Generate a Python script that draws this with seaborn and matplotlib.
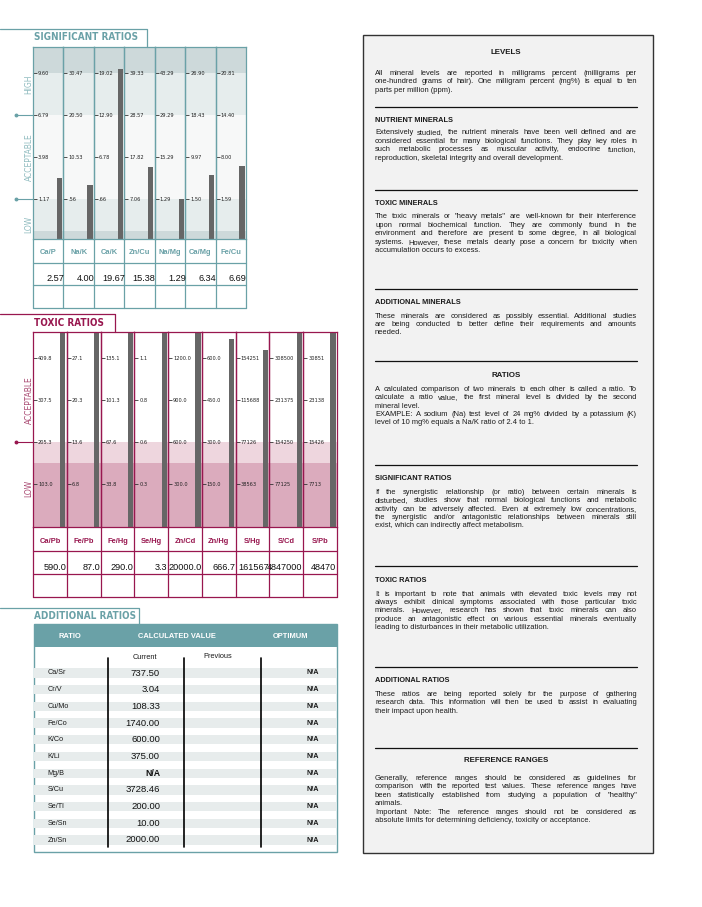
import matplotlib
matplotlib.use("Agg")
import matplotlib.pyplot as plt
import seaborn as sns
import numpy as np
import pandas as pd
from matplotlib import font_manager
from matplotlib.font_manager import FontProperties
from matplotlib.patches import Rectangle

sns.set_theme(style="white")
installed = {f.name for f in font_manager.fontManager.ttflist}
SANS = "Liberation Sans" if "Liberation Sans" in installed else "DejaVu Sans"
plt.rcParams['font.family'] = [SANS, 'DejaVu Sans']

# look for a condensed / narrow face for the panel titles
cond_bold, cond_reg = None, None
for f in font_manager.fontManager.ttflist:
    narrow = ("Narrow" in f.name or "Condensed" in f.name or
              str(f.stretch) in ("condensed", "semi-condensed", "extra-condensed"))
    if not narrow or "Mono" in f.name or str(f.style) != "normal":
        continue
    w = f.weight if isinstance(f.weight, int) else (700 if "bold" in str(f.weight) else 400)
    if w >= 600 and cond_bold is None:
        cond_bold = f.fname
    if w < 600 and cond_reg is None:
        cond_reg = f.fname


def title_font(size):
    if cond_bold:
        return FontProperties(fname=cond_bold, size=size)
    return FontProperties(family=SANS, weight="bold", size=size * 0.95)


def narrow_font(size):
    if cond_reg:
        return FontProperties(fname=cond_reg, size=size)
    return FontProperties(family=SANS, size=size)


# ---------------- data ----------------
sig_ratios = ["Ca/P", "Na/K", "Ca/K", "Zn/Cu", "Na/Mg", "Ca/Mg", "Fe/Cu"]
sig_values = [2.57, 4.00, 19.67, 15.38, 1.29, 6.34, 6.69]
sig_tick_labels = [
    ["9.60", "6.79", "3.98", "1.17"],
    ["30.47", "20.50", "10.53", ".56"],
    ["19.02", "12.90", "6.78", ".66"],
    ["39.33", "28.57", "17.82", "7.06"],
    ["43.29", "29.29", "15.29", "1.29"],
    ["26.90", "18.43", "9.97", "1.50"],
    ["20.81", "14.40", "8.00", "1.59"],
]
sig_zones = ["HIGH", "ACCEPTABLE", "LOW"]

tox_ratios = ["Ca/Pb", "Fe/Pb", "Fe/Hg", "Se/Hg", "Zn/Cd", "Zn/Hg", "S/Hg", "S/Cd", "S/Pb"]
tox_value_labels = ["590.0", "87.0", "290.0", "3.3", "20000.0", "666.7", "161567", "4847000", "48470"]
tox_values = [float(v) for v in tox_value_labels]
tox_tick_labels = [
    ["409.8", "307.5", "205.3", "103.0"],
    ["27.1", "20.3", "13.6", "6.8"],
    ["135.1", "101.3", "67.6", "33.8"],
    ["1.1", "0.8", "0.6", "0.3"],
    ["1200.0", "900.0", "600.0", "300.0"],
    ["600.0", "450.0", "300.0", "150.0"],
    ["154251", "115688", "77126", "38563"],
    ["308500", "231375", "154250", "77125"],
    ["30851", "23138", "15426", "7713"],
]
tox_zones = ["ACCEPTABLE", "LOW"]

add_ratios = ["Ca/Sr", "Cr/V", "Cu/Mo", "Fe/Co", "K/Co", "K/Li", "Mg/B", "S/Cu", "Se/Tl", "Se/Sn", "Zn/Sn"]
add_current = ["737.50", "3.04", "108.33", "1740.00", "600.00", "375.00", "N/A", "3728.46", "200.00", "10.00", "2000.00"]
add_previous = [""] * 11
add_optimum = ["N/A"] * 11
add_headers = ["RATIO", "CALCULATED VALUE", "OPTIMUM"]
add_subheaders = ["Current", "Previous"]

# ---------------- styling ----------------
W, H = 702, 907
TEAL = "#6aa1a7"
TEAL_LT = "#8dbabe"
MAROON = "#98174f"
MAROON_LT = "#a8466f"
BAR = "#666666"
TXT = "#1a1a1a"

fig = plt.figure(figsize=(W / 100, H / 100), dpi=100)


def rect(x0, y0, x1, y1):
    return [x0 / W, 1 - y1 / H, (x1 - x0) / W, (y1 - y0) / H]


bg = fig.add_axes([0, 0, 1, 1], zorder=0)
bg.set_xlim(0, W); bg.set_ylim(H, 0); bg.axis("off")
ov = fig.add_axes([0, 0, 1, 1], zorder=5)
ov.set_xlim(0, W); ov.set_ylim(H, 0); ov.axis("off")


def ratio_column(x0, x1, ytop, ybot, tick_px, labels, value, name, edge):
    ax = fig.add_axes(rect(x0, ytop, x1, ybot), zorder=2)
    hi, lo = float(labels[0]), float(labels[-1])
    ticks = list(np.linspace(hi, lo, len(labels)))   # ticks are evenly spaced on the scale
    step = (hi - lo) / (len(labels) - 1)
    pps = tick_px[1] - tick_px[0]
    base = lo - (ybot - tick_px[-1]) / pps * step
    top = hi + (tick_px[0] - ytop) / pps * step
    df = pd.DataFrame({"ratio": [name], "height": [value - base]})
    sns.barplot(data=df, x="ratio", y="height", ax=ax, color=BAR, saturation=1,
                width=0.8, errorbar=None, linewidth=0)
    ax.set_ylim(0, top - base)
    ax.set_yticks([t - base for t in ticks])
    ax.set_yticklabels(labels, ha="left", fontproperties=narrow_font(4.1))
    ax.tick_params(axis="y", left=True, direction="in", length=3.0, width=0.6,
                   color="#333333", pad=-3.6, labelcolor="#222222")
    wpx = x1 - x0
    unit = 5.3 / 0.8
    cpx = wpx - 1.3 - 2.65
    ax.set_xlim(-cpx / unit, (wpx - cpx) / unit)
    ax.set_xticks([])
    ax.set_xlabel(""); ax.set_ylabel("")
    ax.patch.set_alpha(0)
    for s in ax.spines.values():
        s.set_visible(True); s.set_color(edge); s.set_linewidth(0.9)
    return ax


# ================= SIGNIFICANT RATIOS =================
SX0, SX1, STOP, SBOT = 33, 246, 47, 239
sig_edges = [SX0 + (SX1 - SX0) * i / 7 for i in range(8)]
sig_tick_px = [73, 115, 157, 199]
for y0, y1, c in [(47, 73, "#cdd9da"), (73, 115, "#e6eded"), (115, 199, "#f7f8f8"),
                  (199, 231, "#e6eded"), (231, 239, "#cdd9da")]:
    bg.add_patch(Rectangle((SX0, y0), SX1 - SX0, y1 - y0, color=c, lw=0))
for i, name in enumerate(sig_ratios):
    ratio_column(sig_edges[i], sig_edges[i + 1], STOP, SBOT, sig_tick_px,
                 sig_tick_labels[i], sig_values[i], name, TEAL)
    cx = (sig_edges[i] + sig_edges[i + 1]) / 2
    ov.text(cx, 253, name, ha="center", va="center", fontsize=5.4, fontweight="bold", color=TEAL)
    ov.text(sig_edges[i + 1] + 0.5, 278.5, f"{sig_values[i]:.2f}", ha="right", va="center",
            fontsize=6.6, color="#111111")
for y in [263, 285, 308]:
    ov.plot([SX0, SX1], [y, y], color=TEAL, lw=0.9)
for x in sig_edges:
    ov.plot([x, x], [SBOT, 308], color=TEAL, lw=0.9)
ov.plot([0, 147, 147], [29, 29, 47], color=TEAL, lw=0.9)
ov.text(34.5, 37.5, "SIGNIFICANT RATIOS", ha="left", va="center",
        fontproperties=title_font(7.1), color=TEAL)
for lab, y in zip(sig_zones, [84, 157.5, 224]):
    ov.text(29, y, lab, rotation=90, ha="center", va="center",
            fontproperties=narrow_font(6.0), color=TEAL_LT)
for y in [115, 199]:
    ov.plot([15, SX0], [y, y], color=TEAL, lw=0.8)
    ov.plot([15.5], [y], marker="o", ms=1.8, color=TEAL)

# ================= TOXIC RATIOS =================
TX0, TX1, TTOP, TBOT = 33, 337, 332, 527
tox_edges = [TX0 + (TX1 - TX0) * i / 9 for i in range(10)]
tox_tick_px = [358, 400, 442, 484]
for y0, y1, c in [(332, 442, "#ffffff"), (442, 463, "#eed6de"), (463, 527, "#dbabbd")]:
    bg.add_patch(Rectangle((TX0, y0), TX1 - TX0, y1 - y0, color=c, lw=0))
for i, name in enumerate(tox_ratios):
    ratio_column(tox_edges[i], tox_edges[i + 1], TTOP, TBOT, tox_tick_px,
                 tox_tick_labels[i], tox_values[i], name, MAROON)
    cx = (tox_edges[i] + tox_edges[i + 1]) / 2
    ov.text(cx, 541.5, name, ha="center", va="center", fontsize=5.4, fontweight="bold", color=MAROON)
    ov.text(tox_edges[i + 1] - 0.5, 567.5, tox_value_labels[i], ha="right", va="center",
            fontsize=6.6, color="#111111")
for y in [551, 574, 597]:
    ov.plot([TX0, TX1], [y, y], color=MAROON, lw=0.9)
for x in tox_edges:
    ov.plot([x, x], [TBOT, 597], color=MAROON, lw=0.9)
ov.plot([0, 115, 115], [314, 314, 332], color=MAROON, lw=0.9)
ov.text(34.5, 322.5, "TOXIC RATIOS", ha="left", va="center",
        fontproperties=title_font(7.1), color=MAROON)
for lab, y in zip(tox_zones, [400, 488]):
    ov.text(29, y, lab, rotation=90, ha="center", va="center",
            fontproperties=narrow_font(6.0), color=MAROON_LT)
ov.plot([15, TX0], [442, 442], color=MAROON, lw=0.8)
ov.plot([15.5], [442], marker="o", ms=1.8, color=MAROON)

# ================= ADDITIONAL RATIOS =================
AX0, AX1, ATOP, ABOT = 33.5, 336.5, 624, 852
ov.plot([0, 139, 139], [608, 608, ATOP], color=TEAL, lw=0.9)
ov.text(34.5, 616, "ADDITIONAL RATIOS", ha="left", va="center",
        fontproperties=title_font(7.1), color=TEAL)
bg.add_patch(Rectangle((AX0, ATOP), AX1 - AX0, 647 - ATOP, color=TEAL, lw=0))
bg.add_patch(Rectangle((AX0, ATOP), AX1 - AX0, ABOT - ATOP, fill=False, ec=TEAL, lw=1.0))
for txt, x in zip(add_headers, [70, 176.7, 290.7]):
    ov.text(x, 636, txt, ha="center", va="center", fontsize=5.4, fontweight="bold", color="white")
ov.text(145, 657.3, add_subheaders[0], ha="center", va="center", fontsize=5.3, color=TXT)
ov.text(217.3, 656, add_subheaders[1], ha="center", va="center", fontsize=5.3, color=TXT)
for i, name in enumerate(add_ratios):
    y = 673 + 16.7 * i
    bg.add_patch(Rectangle((AX0 + 0.5, y - 4.7), AX1 - AX0 - 1, 9.4, color="#e7ecec", lw=0))
    ov.text(47.3, y, name, ha="left", va="center", fontsize=5.2, color=TXT)
    cur = add_current[i]
    ov.text(160, y, cur, ha="right", va="center", fontsize=6.3 if cur == "N/A" else 6.8,
            fontweight="bold" if cur == "N/A" else "normal", color="#111111")
    ov.text(230, y, add_previous[i], ha="right", va="center", fontsize=6.8)
    ov.text(319.3, y, add_optimum[i], ha="right", va="center", fontsize=5.2,
            fontweight="bold", color=TXT)
for x in [108.3, 184.3, 260.7]:
    ov.plot([x, x], [658, 847], color="black", lw=1.2)

# ================= RIGHT INFO PANEL =================
bg.add_patch(Rectangle((362.7, 35), 653.3 - 362.7, 853.3 - 35, fc="#f2f2f2", ec="#333333", lw=1.0))
PX0, PX1 = 375, 637
renderer = fig.canvas.get_renderer()
BODY = 5.45
HEAD = 5.3


def paragraph(lines, y0, dy=8.4):
    for i, line in enumerate(lines):
        last = line.endswith("|")
        line = line.rstrip("|")
        y = y0 + i * dy
        words = line.split(" ")
        if last or len(words) == 1:
            ov.text(PX0, y, line, ha="left", va="center", fontsize=BODY, color=TXT)
            continue
        ts = [ov.text(PX0, y, w, ha="left", va="center", fontsize=BODY, color=TXT) for w in words]
        ws = [t.get_window_extent(renderer).width for t in ts]
        gap = (PX1 - PX0 - sum(ws)) / (len(words) - 1)
        x = PX0
        for t, w in zip(ts, ws):
            t.set_x(x)
            x += w + gap


def heading(txt, y, center=False):
    if center:
        ov.text((PX0 + PX1) / 2, y, txt, ha="center", va="center", fontsize=HEAD + 0.4,
                fontweight="bold", color=TXT)
    else:
        ov.text(PX0, y, txt, ha="left", va="center", fontsize=HEAD, fontweight="bold", color=TXT)


for y in [107.3, 190, 289.3, 361, 465.3, 566, 666.7, 748.3]:
    ov.plot([PX0, PX1], [y, y], color="#111111", lw=0.9)

heading("LEVELS", 52.7, center=True)
paragraph(["All mineral levels are reported in milligrams percent (milligrams per",
           "one-hundred grams of hair). One milligram percent (mg%) is equal to ten",
           "parts per million (ppm).|"], 73.3)
heading("NUTRIENT MINERALS", 120)
paragraph(["Extensively studied, the nutrient minerals have been well defined and are",
           "considered essential for many biological functions. They play key roles in",
           "such metabolic processes as muscular activity, endocrine function,",
           "reproduction, skeletal integrity and overall development.|"], 133)
heading("TOXIC MINERALS", 203.3)
paragraph(["The toxic minerals or \"heavy metals\" are well-known for their interference",
           "upon normal biochemical function. They are commonly found in the",
           "environment and therefore are present to some degree, in all biological",
           "systems. However, these metals clearly pose a concern for toxicity when",
           "accumulation occurs to excess.|"], 217)
heading("ADDITIONAL MINERALS", 302.7)
paragraph(["These minerals are considered as possibly essential. Additional studies",
           "are being conducted to better define their requirements and amounts",
           "needed.|"], 316)
heading("RATIOS", 375.7, center=True)
paragraph(["A calculated comparison of two minerals to each other is called a ratio. To",
           "calculate a ratio value, the first mineral level is divided by the second",
           "mineral level.|",
           "EXAMPLE: A sodium (Na) test level of 24 mg% divided by a potassium (K)",
           "level of 10 mg% equals a Na/K ratio of 2.4 to 1.|"], 389.3)
heading("SIGNIFICANT RATIOS", 478.3)
paragraph(["If the synergistic relationship (or ratio) between certain minerals is",
           "disturbed, studies show that normal biological functions and metabolic",
           "activity can be adversely affected. Even at extremely low concentrations,",
           "the synergistic and/or antagonistic relationships between minerals still",
           "exist, which can indirectly affect metabolism.|"], 492.3)
heading("TOXIC RATIOS", 580)
paragraph(["It is important to note that animals with elevated toxic levels may not",
           "always exhibit clinical symptoms associated with those particular toxic",
           "minerals. However, research has shown that toxic minerals can also",
           "produce an antagonistic effect on various essential minerals eventually",
           "leading to disturbances in their metabolic utilization.|"], 594)
heading("ADDITIONAL RATIOS", 680)
paragraph(["These ratios are being reported solely for the purpose of gathering",
           "research data. This information will then be used to assist in evaluating",
           "their impact upon health.|"], 694.5)
heading("REFERENCE RANGES", 761, center=True)
paragraph(["Generally, reference ranges should be considered as guidelines for",
           "comparison with the reported test values. These reference ranges have",
           "been statistically established from studying a population of \"healthy\"",
           "animals.|",
           "Important Note: The reference ranges should not be considered as",
           "absolute limits for determining deficiency, toxicity or acceptance.|"], 778.5)

fig.savefig("out.png", dpi=100, facecolor="white")
